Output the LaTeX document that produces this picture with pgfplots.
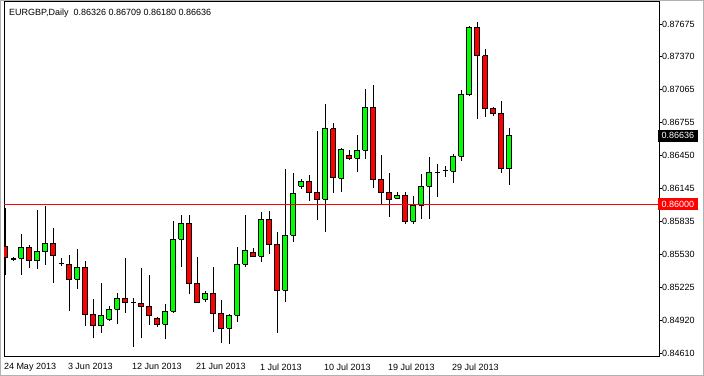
\documentclass[border=0pt]{standalone}
\usepackage{pgfplots}
\pgfplotsset{compat=1.18}
\usepackage{fontspec}
\setmainfont{Liberation Sans}
\definecolor{cgreen}{RGB}{0,255,0}
\definecolor{cred}{RGB}{255,0,0}
% candle: color, index, open, high, low, close
\newcommand{\cdl}[6]{%
  \pgfmathsetmacro\xa{#2-0.3}%
  \pgfmathsetmacro\xb{#2+0.3}%
  \edef\temp{%
    \noexpand\addplot[black, line width=1bp, forget plot] coordinates {(#2,#5) (#2,#4)};%
    \noexpand\addplot[draw=black, fill=#1, line width=1bp, forget plot] coordinates {(\xa,#3) (\xb,#3) (\xb,#6) (\xa,#6) (\xa,#3)};%
  }\temp}
\newcommand{\cU}[5]{\cdl{cgreen}{#1}{#2}{#3}{#4}{#5}}
\newcommand{\cD}[5]{\cdl{cred}{#1}{#2}{#3}{#4}{#5}}
% doji: index, open, high, low
\newcommand{\cJ}[4]{%
  \pgfmathsetmacro\xa{#1-0.3}%
  \pgfmathsetmacro\xb{#1+0.3}%
  \edef\temp{%
    \noexpand\addplot[black, line width=1bp, forget plot] coordinates {(#1,#4) (#1,#3)};%
    \noexpand\addplot[black, line width=1.4bp, forget plot] coordinates {(\xa,#2) (\xb,#2)};%
  }\temp}
\pgfplotsset{chartbase/.style={
  at={(0,0)}, anchor=south west, scale only axis,
  width=655bp, height=354bp,
  xmin=-0.1625, xmax=81.71,
  ymin=0.84586, ymax=0.87879}}
\begin{document}
\begin{tikzpicture}
\begin{axis}[
  chartbase,
  axis line style={black, line width=1bp},
  xtick pos=bottom, ytick pos=right,
  yticklabel pos=right,
  tick align=outside,
  xtick={0,8,16,24,32,40,48,56},
  xticklabels={24 May 2013, 3 Jun 2013, 12 Jun 2013, 21 Jun 2013, 1 Jul 2013, 10 Jul 2013, 19 Jul 2013, 29 Jul 2013},
  x tick style={draw=none},
  y tick style={black, line width=0.8bp},
  major tick length=3bp,
  ytick={0.84610,0.84920,0.85225,0.85530,0.85835,0.86145,0.86450,0.86755,0.87065,0.87370,0.87675},
  yticklabels={0.84610,0.84920,0.85225,0.85530,0.85835,0.86145,0.86450,0.86755,0.87065,0.87370,0.87675},
  tick label style={font=\fontsize{9bp}{10bp}\selectfont},
  x tick label style={anchor=north west, inner sep=0pt, xshift=-1.5bp, yshift=-4.5bp},
  y tick label style={anchor=west, inner sep=0pt, xshift=0bp},
  clip=true,
]
\cD{0}{0.85603}{0.85963}{0.85340}{0.85504}
\cJ{1}{0.85488}{0.85510}{0.85470}
\cU{2}{0.85495}{0.85721}{0.85340}{0.85597}
\cD{3}{0.85597}{0.85619}{0.85407}{0.85473}
\cU{4}{0.85473}{0.85944}{0.85395}{0.85560}
\cU{5}{0.85556}{0.85981}{0.85433}{0.85634}
\cD{6}{0.85634}{0.85774}{0.85268}{0.85519}
\cJ{7}{0.85448}{0.85495}{0.85423}
\cD{8}{0.85439}{0.85526}{0.85007}{0.85300}
\cU{9}{0.85300}{0.85579}{0.85207}{0.85411}
\cD{10}{0.85411}{0.85470}{0.84868}{0.84974}
\cD{11}{0.84974}{0.85116}{0.84751}{0.84868}
\cU{12}{0.84868}{0.85265}{0.84800}{0.84965}
\cU{13}{0.84927}{0.85051}{0.84914}{0.85020}
\cU{14}{0.85020}{0.85169}{0.84884}{0.85123}
\cD{15}{0.85123}{0.85495}{0.84989}{0.85086}
\cJ{16}{0.85082}{0.85123}{0.84673}
\cD{17}{0.85076}{0.85402}{0.84751}{0.85048}
\cD{18}{0.85048}{0.85340}{0.84874}{0.84961}
\cD{19}{0.84937}{0.84952}{0.84859}{0.84881}
\cU{20}{0.84881}{0.85070}{0.84741}{0.85002}
\cU{21}{0.85002}{0.85842}{0.84983}{0.85672}
\cU{22}{0.85672}{0.85898}{0.85417}{0.85820}
\cD{23}{0.85820}{0.85898}{0.85160}{0.85262}
\cD{24}{0.85262}{0.85507}{0.85079}{0.85084}
\cU{25}{0.85113}{0.85191}{0.85091}{0.85166}
\cD{26}{0.85169}{0.85411}{0.84812}{0.84983}
\cD{27}{0.84983}{0.85107}{0.84704}{0.84844}
\cU{28}{0.84844}{0.84977}{0.84695}{0.84967}
\cU{29}{0.84967}{0.85597}{0.84905}{0.85439}
\cU{30}{0.85439}{0.85898}{0.85417}{0.85569}
\cD{31}{0.85551}{0.85588}{0.85504}{0.85513}
\cU{32}{0.85513}{0.85928}{0.85463}{0.85858}
\cD{33}{0.85858}{0.85932}{0.85538}{0.85625}
\cD{34}{0.85625}{0.85742}{0.84803}{0.85197}
\cU{35}{0.85197}{0.86326}{0.85091}{0.85709}
\cU{36}{0.85709}{0.86288}{0.85649}{0.86093}
\cU{37}{0.86165}{0.86233}{0.86142}{0.86211}
\cD{38}{0.86211}{0.86270}{0.86028}{0.86109}
\cD{39}{0.86109}{0.86679}{0.85854}{0.86044}
\cU{40}{0.86044}{0.86930}{0.85737}{0.86698}
\cD{41}{0.86698}{0.86751}{0.86100}{0.86248}
\cU{42}{0.86239}{0.86518}{0.86114}{0.86509}
\cD{43}{0.86453}{0.86500}{0.86412}{0.86425}
\cU{44}{0.86425}{0.86642}{0.86300}{0.86500}
\cU{45}{0.86500}{0.87067}{0.86416}{0.86900}
\cD{46}{0.86900}{0.87104}{0.86146}{0.86230}
\cD{47}{0.86230}{0.86456}{0.85997}{0.86109}
\cD{48}{0.86109}{0.86286}{0.85882}{0.86044}
\cU{49}{0.86053}{0.86109}{0.86044}{0.86081}
\cD{50}{0.86081}{0.86109}{0.85811}{0.85839}
\cU{51}{0.85839}{0.86072}{0.85811}{0.85988}
\cU{52}{0.85988}{0.86279}{0.85863}{0.86165}
\cU{53}{0.86165}{0.86434}{0.85863}{0.86295}
\cJ{54}{0.86295}{0.86369}{0.86065}
\cJ{55}{0.86312}{0.86352}{0.86251}
\cU{56}{0.86304}{0.86462}{0.86198}{0.86444}
\cU{57}{0.86444}{0.87058}{0.86403}{0.87020}
\cU{58}{0.87014}{0.87656}{0.87005}{0.87644}
\cD{59}{0.87644}{0.87696}{0.86791}{0.87380}
\cD{60}{0.87380}{0.87442}{0.86812}{0.86890}
\cD{61}{0.86890}{0.86900}{0.86821}{0.86840}
\cD{62}{0.86844}{0.86958}{0.86291}{0.86326}
\cU{63}{0.86326}{0.86709}{0.86180}{0.86636}
\addplot[draw=cred, line width=0.9bp, forget plot] coordinates {(-1,0.86) (83,0.86)};
\node[anchor=west, inner sep=0pt, font=\fontsize{9bp}{10bp}\selectfont] at ([xshift=5bp, yshift=-11.5bp]rel axis cs:0,1) {EURGBP,Daily\ \ 0.86326 0.86709 0.86180 0.86636};
\end{axis}
% price boxes (horizontal line level and last close), set as tick labels
\begin{axis}[
  chartbase, axis line style={draw=none}, tick style={draw=none},
  xtick=\empty, ytick={0.86000}, yticklabels={0.86000},
  ytick pos=right, yticklabel pos=right,
  yticklabel style={font=\fontsize{9bp}{10bp}\selectfont, anchor=west, inner xsep=3.5bp, inner ysep=1.5bp, minimum height=12bp, text=white, fill=cred, xshift=-1bp},
]
\end{axis}
\begin{axis}[
  chartbase, axis line style={draw=none}, tick style={draw=none},
  xtick=\empty, ytick={0.86636}, yticklabels={0.86636},
  ytick pos=right, yticklabel pos=right,
  yticklabel style={font=\fontsize{9bp}{10bp}\selectfont, anchor=west, inner xsep=3.5bp, inner ysep=1.5bp, minimum height=12bp, text=white, fill=black, xshift=-1bp},
]
\end{axis}
\path[use as bounding box] (-4bp,-20bp) rectangle (700bp,356bp);
\draw[gray!60, line width=1bp] (-3.5bp,-19.5bp) rectangle (699.5bp,355.5bp);
\end{tikzpicture}
\end{document}
